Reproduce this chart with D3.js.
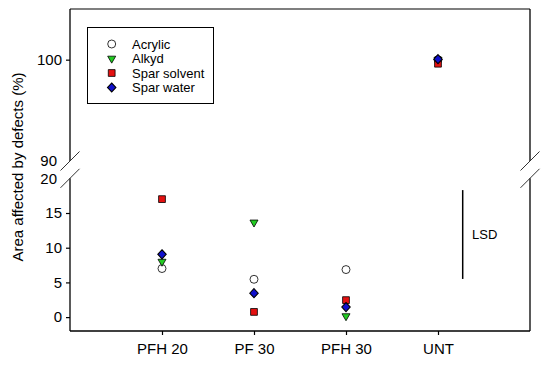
<!DOCTYPE html>
<html><head><meta charset="utf-8">
<script src="https://cdn.jsdelivr.net/npm/d3@7"></script>
<style>body{margin:0;background:#fff}svg{display:block;font-family:"Liberation Sans",Arial,sans-serif}</style>
</head><body><svg id="c" width="550" height="366"></svg>
<script>
const categories = ["PFH 20", "PF 30", "PFH 30", "UNT"];
const seriesNames = ["Acrylic", "Alkyd", "Spar solvent", "Spar water"];
const acrylic = [7.0, 5.45, 6.85, 100.0];
const alkyd = [8.0, 13.65, 0.15, 100.0];
const sparSolvent = [17.0, 0.75, 2.45, 99.6];
const sparWater = [9.05, 3.45, 1.45, 100.05];
const lowerTicks = [0, 5, 10, 15, 20];
const upperTicks = [90, 100];
const lsd = [5.5, 18.3];

const svg = d3.select("#c");
const L = 70, R = 530, T = 9, B = 331;
const x = d3.scalePoint().domain(["", ...categories, " "]).range([L, R]);
const yLow = d3.scaleLinear().domain([-2, 20]).range([B, 178.3]);
const yUp = d3.scaleLinear().domain([90, 105]).range([161, T]);
const y = v => v >= 90 ? yUp(v) : yLow(v);
const FONT = "Liberation Sans, Arial, sans-serif";

const g = svg.append("g");
const line = (x1,y1,x2,y2,c="#000",w=1.3) => g.append("line").attr("x1",x1).attr("y1",y1).attr("x2",x2).attr("y2",y2).attr("stroke",c).attr("stroke-width",w);
line(L, T, R, T, "#555");
line(L, T, L, yUp(90));
line(L, yLow(20), L, B);
line(R, T, R, yUp(90));
line(R, yLow(20), R, B);
line(L, B, R, B);
[L, R].forEach(xx => {
  [yUp(90), yLow(20)].forEach(yy => line(xx - 9.5, yy + 9.5, xx + 9.5, yy - 9.5, "#333", 1));
});

const axL = g.append("g").attr("transform", `translate(${L},0)`)
  .call(d3.axisLeft(yLow).tickValues(lowerTicks.filter(t => t < 20)).tickSize(4).tickPadding(4));
const axU = g.append("g").attr("transform", `translate(${L},0)`)
  .call(d3.axisLeft(yUp).tickValues(upperTicks.filter(t => t > 90)).tickSize(4).tickPadding(4));
[axL, axU].forEach(a => { a.select(".domain").remove(); a.selectAll("line").attr("stroke-width",1.2); a.selectAll("text").attr("font-size", 15).attr("font-family", FONT); });
g.append("text").attr("x", L - 13).attr("y", yUp(90)).attr("dy","0.35em").attr("text-anchor","end").attr("font-size",15).text(upperTicks[0]);
g.append("text").attr("x", L - 13).attr("y", yLow(20)).attr("dy","0.35em").attr("text-anchor","end").attr("font-size",15).text(lowerTicks[4]);

const axX = g.append("g").attr("transform", `translate(0,${B})`)
  .call(d3.axisBottom(x).tickValues(categories).tickSize(4).tickPadding(8));
axX.select(".domain").remove();
axX.selectAll("line").attr("stroke-width",1.2);
axX.selectAll("text").attr("font-size", 15).attr("font-family", FONT);

svg.append("text").attr("transform", "translate(23,167) rotate(-90)").attr("text-anchor","middle")
  .attr("font-size", 15).text("Area affected by defects (%)");

const styles = [
  {name: seriesNames[0], vals: acrylic, sym: d3.symbolCircle, size: 50, fill: "#fff"},
  {name: seriesNames[1], vals: alkyd, sym: d3.symbolTriangle, size: 28, fill: "#22cc22", rot: 180},
  {name: seriesNames[2], vals: sparSolvent, sym: d3.symbolSquare, size: 46, fill: "#e41111"},
  {name: seriesNames[3], vals: sparWater, sym: d3.symbolDiamond, size: 24, fill: "#1010cc", sx: 1.6}
];
const drawSym = (sel, s, cx, cy) => sel.append("path")
  .attr("d", d3.symbol().type(s.sym).size(s.size)())
  .attr("transform", `translate(${cx},${cy})` + (s.rot ? ` rotate(${s.rot})` : "") + (s.sx ? ` scale(${s.sx},1)` : ""))
  .attr("fill", s.fill).attr("stroke", "#000").attr("stroke-width", 0.8);
styles.forEach(s => {
  s.vals.forEach((v, i) => drawSym(g, s, x(categories[i]), y(v)));
});

line(462.7, yLow(lsd[1]), 462.7, yLow(lsd[0]), "#000", 1.5);
svg.append("text").attr("x", 472).attr("y", yLow((lsd[0]+lsd[1])/2)).attr("dy","0.35em").attr("font-size",13).text("LSD");

svg.append("rect").attr("x", 87.5).attr("y", 27.5).attr("width", 126).attr("height", 76)
  .attr("fill", "#fff").attr("stroke", "#000").attr("stroke-width", 1);
styles.forEach((s, i) => {
  const yy = 44 + i * 14.5;
  drawSym(svg, s, 111.7, yy);
  svg.append("text").attr("x", 132).attr("y", yy).attr("dy","0.35em").attr("font-size",13).text(s.name);
});
</script></body></html>
